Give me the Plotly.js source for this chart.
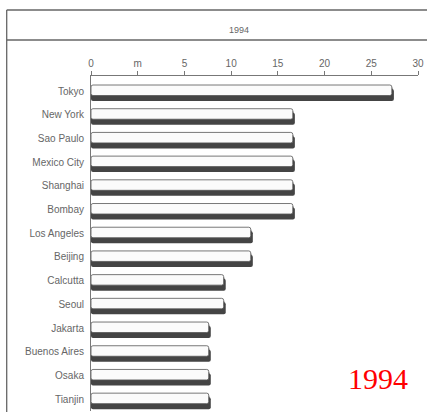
<!DOCTYPE html>
<html>
<head>
<meta charset="utf-8">
<script src="https://cdn.plot.ly/plotly-3.0.1.min.js"></script>
<style>html,body{margin:0;padding:0;background:#fff;overflow:hidden;}#chart{width:427px;height:412px;}</style>
</head>
<body>
<div id="chart"></div>
<script>
const cities = ["Tokyo","New York","Sao Paulo","Mexico City","Shanghai","Bombay","Los Angeles","Beijing","Calcutta","Seoul","Jakarta","Buenos Aires","Osaka","Tianjin"];
const populations = [27.2, 16.6, 16.6, 16.6, 16.6, 16.6, 12.1, 12.1, 9.2, 9.2, 7.6, 7.6, 7.6, 7.6];
const tickValues = [-5, 0, 5, 10, 15, 20, 25, 30];
const tickLabels = ["0", "m", "5", "10", "15", "20", "25", "30"];
const headerText = "1994";
const stampText = "1994";

const axisStart = -5;
const rowPx = 23.7;

const shadow = {
  type: "bar", orientation: "h",
  y: cities, base: axisStart,
  x: populations.map(v => v - axisStart + 0.22),
  offset: -2 / rowPx, width: 12 / rowPx,
  marker: {color: "#444", line: {width: 0}, cornerradius: 2},
  hoverinfo: "skip", showlegend: false
};
const mid = {
  type: "bar", orientation: "h",
  y: cities, base: axisStart,
  x: populations.map(v => v - axisStart + 0.1),
  offset: -4 / rowPx, width: 12 / rowPx,
  marker: {color: "#8a8a8a", line: {width: 0}, cornerradius: 2},
  hoverinfo: "skip", showlegend: false
};
const face = {
  type: "bar", orientation: "h",
  y: cities, base: axisStart,
  x: populations.map(v => v - axisStart),
  offset: -6 / rowPx, width: 10.5 / rowPx,
  marker: {color: "#fbfbfb", line: {color: "#555", width: 0.8}, cornerradius: 2},
  showlegend: false
};

const L = 91, R = 418, T = 76, B = 411;
const px2x = p => (p - L) / (R - L);
const px2y = p => (B - p) / (B - T);
const frameColor = "#666";

const layout = {
  width: 427, height: 412,
  margin: {l: L, r: 427 - R, t: T, b: 412 - B, pad: 0},
  paper_bgcolor: "#fff", plot_bgcolor: "#fff",
  barmode: "overlay",
  font: {family: "Liberation Sans, Arial, sans-serif", size: 10, color: "#666"},
  xaxis: {
    side: "top", range: [-5, 30], tickmode: "array",
    tickvals: tickValues, ticktext: tickLabels,
    showgrid: false, zeroline: false,
    showline: true, linecolor: "#777", linewidth: 1,
    ticks: "outside", ticklen: 4, tickcolor: "#777", tickwidth: 1,
    tickfont: {size: 10, color: "#666"}, fixedrange: true
  },
  yaxis: {
    type: "category", range: [13.5, -0.633],
    showgrid: false, zeroline: false,
    showline: true, linecolor: "#777", linewidth: 1,
    ticks: "", ticklabelstandoff: 4,
    tickfont: {size: 10, color: "#666"}, fixedrange: true
  },
  shapes: [
    {type: "line", xref: "paper", yref: "paper", x0: px2x(6.7), x1: px2x(440), y0: px2y(10), y1: px2y(10), line: {color: frameColor, width: 1.3}},
    {type: "line", xref: "paper", yref: "paper", x0: px2x(6.7), x1: px2x(440), y0: px2y(40), y1: px2y(40), line: {color: frameColor, width: 1.3}},
    {type: "line", xref: "paper", yref: "paper", x0: px2x(6.7), x1: px2x(6.7), y0: px2y(10), y1: px2y(414), line: {color: frameColor, width: 1.3}}
  ],
  annotations: [
    {xref: "paper", yref: "paper", x: px2x(239), y: px2y(30), text: headerText, showarrow: false,
     font: {size: 9, color: "#666"}, xanchor: "center", yanchor: "middle"},
    {xref: "paper", yref: "paper", x: px2x(378), y: px2y(378), text: stampText, showarrow: false,
     font: {family: "Liberation Serif, Times New Roman, serif", size: 30, color: "#ff0000"}, xanchor: "center", yanchor: "middle"}
  ]
};

Plotly.newPlot("chart", [mid, shadow, face], layout, {displayModeBar: false, staticPlot: true});
</script>
</body>
</html>
